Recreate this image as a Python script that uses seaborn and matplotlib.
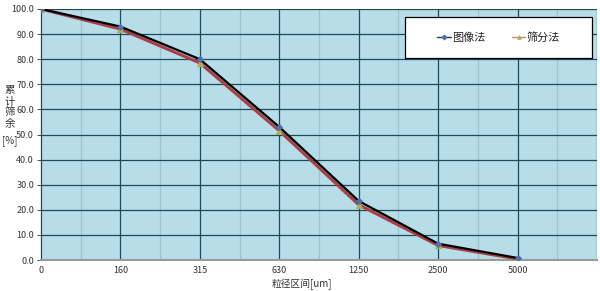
import matplotlib
matplotlib.use("Agg")
import matplotlib.pyplot as plt
import seaborn as sns
import numpy as np
import pandas as pd
from matplotlib.ticker import FixedLocator
from matplotlib.patches import Rectangle

categories = ["0", "160", "315", "630", "1250", "2500", "5000"]
image_method = [100.0, 93.0, 80.0, 53.0, 23.5, 6.5, 0.8]
sieve_method = [100.0, 92.0, 78.5, 51.5, 22.0, 5.8, 0.4]
series_names = ["图像法", "筛分法"]

sns.set_theme(style="white")
plt.rcParams["font.family"] = ["Noto Sans CJK SC", "DejaVu Sans"]

fig = plt.figure(figsize=(6.0, 2.91), dpi=100)
ax = fig.add_axes([41/600, 1-260/291, 556/600, 251/291])
ax.set_facecolor("#B7DDE8")

x = np.arange(len(categories))
df1 = pd.DataFrame({"x": x, "y": image_method})
df2 = pd.DataFrame({"x": x, "y": sieve_method})

sns.lineplot(data=df1, x="x", y="y", ax=ax, color="black", linewidth=1.6,
             marker="D", markersize=3, markerfacecolor="#4F6FA8",
             markeredgecolor="#4F6FA8", label=series_names[0], zorder=4)
sns.lineplot(data=df2, x="x", y="y", ax=ax, color="#A8404A", linewidth=2.2,
             marker="^", markersize=4, markerfacecolor="#A8B060",
             markeredgecolor="#A8B060", label=series_names[1], zorder=3)

ax.set_xlim(0, 7)
ax.set_ylim(0, 100)
ax.set_xticks(range(len(categories)))
ax.set_xticklabels(categories)
ax.xaxis.set_minor_locator(FixedLocator(np.arange(0.5, 7, 1.0)))
ax.set_yticks(np.arange(0, 101, 10))
ax.set_yticklabels([f"{v:.1f}" for v in np.arange(0, 101, 10)])

for xv in range(1, 8):
    ax.axvline(xv, color="#1E4B5A", linewidth=0.9, zorder=1)
for xv in np.arange(0.5, 7, 1.0):
    ax.axvline(xv, color="#9EC3CE", linewidth=0.9, zorder=1)
for yv in range(10, 101, 10):
    ax.axhline(yv, color="#1E4B5A", linewidth=0.9, zorder=1)

ax.tick_params(axis="both", labelsize=6.5, colors="#333333", length=3,
               width=0.6, pad=2, direction="out")
ax.tick_params(axis="x", length=0, pad=4)
ax.tick_params(axis="y", left=True)
ax.tick_params(which="minor", length=0)

for s in ["top", "right"]:
    ax.spines[s].set_visible(False)
ax.spines["left"].set_color("#1E4B5A")
ax.spines["left"].set_linewidth(0.9)
ax.spines["bottom"].set_color("#9A9A9A")
ax.spines["bottom"].set_linewidth(1.5)

ax.set_xlabel("")
ax.set_ylabel("")

fig.text(302/600, 1-284/291, "粒径区间[um]", ha="center", va="center",
         fontsize=7, color="#333333")
for i, ch in enumerate(["累", "计", "筛", "余"]):
    fig.text(10/600, 1-(90.5+11*i)/291, ch, ha="center", va="center",
             fontsize=7.5, color="#333333")
fig.text(10/600, 1-140.5/291, "[%]", ha="center", va="center",
         fontsize=7, color="#333333")

# legend box
box = Rectangle((405/600, 1-58/291), 187/600, 41/291, transform=fig.transFigure,
                facecolor="white", edgecolor="black", linewidth=0.9,
                zorder=8, clip_on=False)
ax.add_patch(box)
leg = ax.legend(loc="center", bbox_to_anchor=(0.823, 0.886), ncol=2,
                frameon=False, fontsize=8,
                columnspacing=2.4, handlelength=1.2, handletextpad=0.1,
                borderaxespad=0)
leg.set_zorder(10)
for t in leg.get_texts():
    t.set_color("#222222")
handle_colors = ["#1F3A6E", "#D08A50"]
for h, c in zip(leg.legend_handles, handle_colors):
    h.set_color(c)
    h.set_linewidth(1.0)
    h.set_markersize(2.5)

fig.savefig("out.png", dpi=100, facecolor="white")
